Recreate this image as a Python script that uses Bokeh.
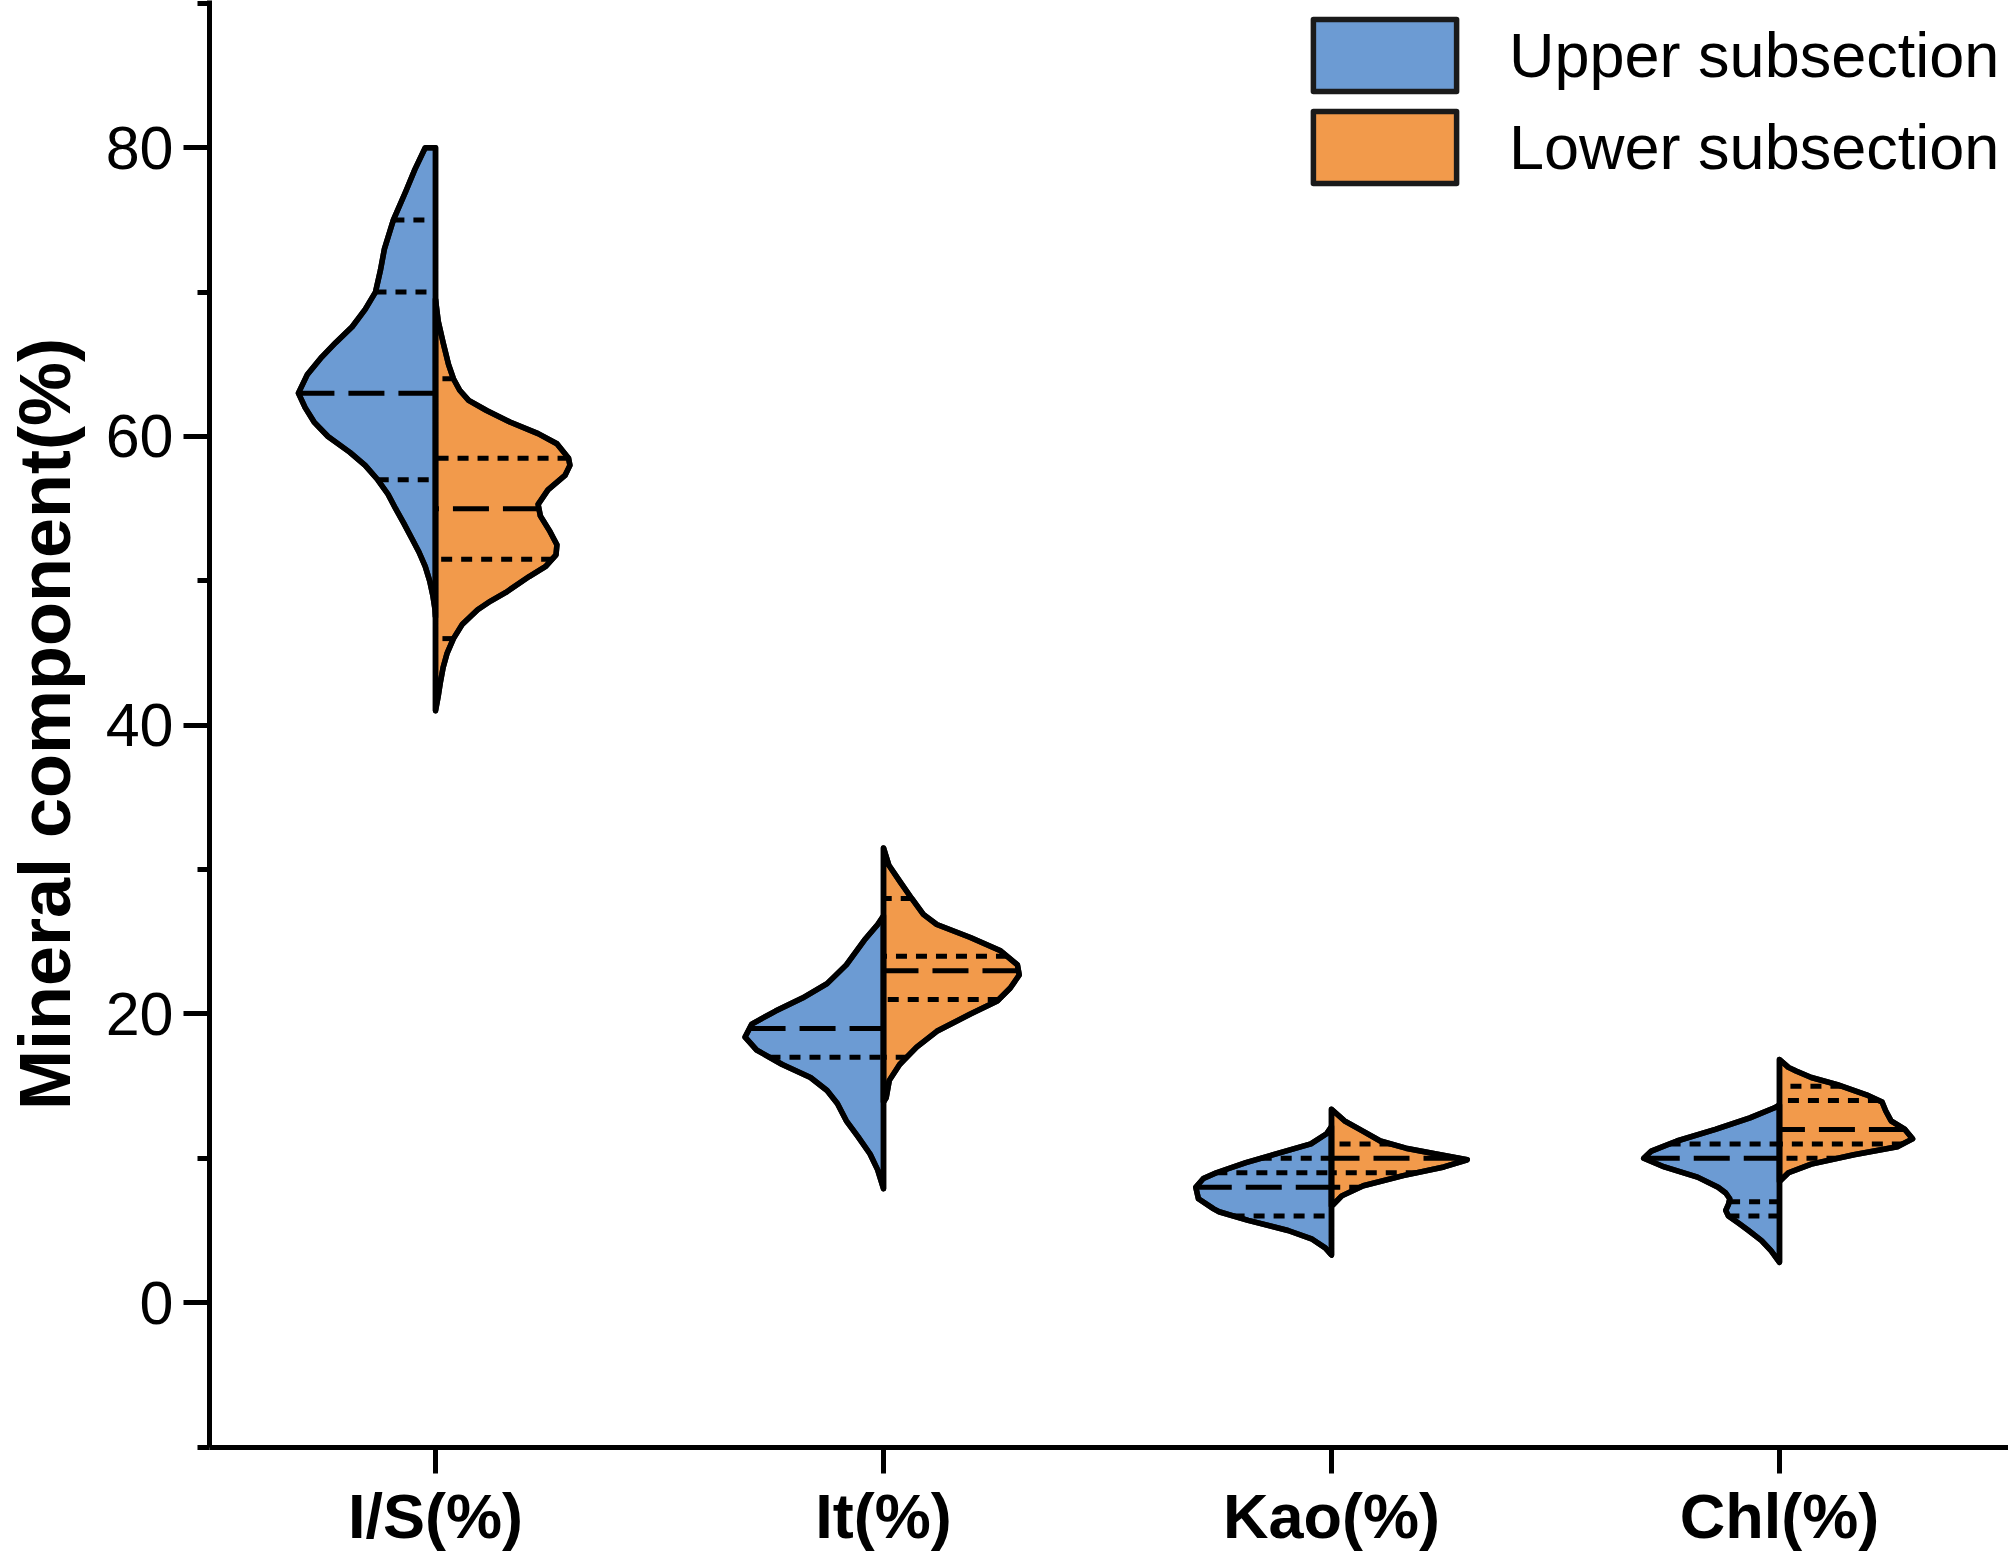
import numpy as np
from bokeh.plotting import figure
from bokeh.models import Range1d, FixedTicker, SingleIntervalTicker, Legend, LegendItem
from bokeh.embed import file_html
from bokeh.resources import INLINE

categories = ["I/S(%)", "It(%)", "Kao(%)", "Chl(%)"]
series_names = ["Upper subsection", "Lower subsection"]
colors = ["#6c9bd3", "#f29a4b"]

# Kernel-density profiles: value (%) and half-width (category units), top to bottom
is_upper_y = [80, 78.5, 77, 75, 73, 71.5, 70, 68.8, 67.6, 66.5, 65.5, 64.3, 63, 62, 61, 60, 58.9, 58, 57, 56, 55, 54, 53, 52, 51, 50, 49, 48, 47.5]
is_upper_w = [0.023, 0.046, 0.066, 0.094, 0.114, 0.123, 0.134, 0.157, 0.186, 0.223, 0.254, 0.286, 0.306, 0.291, 0.271, 0.240, 0.191, 0.157, 0.129, 0.106, 0.089, 0.071, 0.054, 0.037, 0.023, 0.013, 0.006, 0.001, 0.0]
is_lower_y = [69.5, 68, 66.5, 65, 64, 63.2, 62.5, 61.8, 61, 60.2, 59.5, 58.5, 58, 57.3, 56.3, 55.3, 54.5, 53.5, 52.5, 51.8, 51, 50.3, 49.2, 48.6, 48, 47, 46, 45, 44, 43, 42, 41]
is_lower_w = [0, 0.006, 0.017, 0.029, 0.040, 0.054, 0.074, 0.114, 0.166, 0.229, 0.271, 0.297, 0.300, 0.289, 0.251, 0.229, 0.234, 0.254, 0.271, 0.269, 0.246, 0.209, 0.157, 0.123, 0.094, 0.060, 0.040, 0.026, 0.017, 0.011, 0.006, 0]

it_upper_y = [26.8, 26.2, 25.1, 23.4, 22.1, 21.1, 20.2, 19.3, 18.4, 17.5, 16.5, 15.6, 14.7, 13.8, 12.6, 11.5, 10.3, 9.2, 7.9]
it_upper_w = [0, 0.013, 0.043, 0.083, 0.126, 0.181, 0.241, 0.294, 0.309, 0.283, 0.226, 0.163, 0.126, 0.103, 0.083, 0.057, 0.030, 0.013, 0]
it_lower_y = [31.5, 30.3, 29.2, 28.0, 26.9, 26.2, 25.3, 24.4, 23.4, 22.7, 21.8, 20.9, 20.0, 18.8, 17.7, 16.5, 15.4, 14.2, 13.9]
it_lower_w = [0, 0.012, 0.036, 0.063, 0.089, 0.119, 0.194, 0.260, 0.299, 0.303, 0.283, 0.254, 0.194, 0.119, 0.074, 0.036, 0.013, 0.006, 0]

kao_upper_y = [12.2, 11.7, 11.0, 10.4, 9.7, 9.0, 8.6, 8.0, 7.2, 6.5, 6.3, 5.7, 5.0, 4.4, 3.8, 3.3]
kao_upper_w = [0, 0.011, 0.046, 0.114, 0.191, 0.257, 0.286, 0.303, 0.297, 0.263, 0.251, 0.186, 0.097, 0.043, 0.014, 0]
kao_lower_y = [13.4, 12.6, 11.9, 11.2, 10.7, 10.3, 9.9, 9.4, 8.8, 8.1, 7.4, 6.8, 6.7]
kao_lower_w = [0, 0.029, 0.069, 0.109, 0.166, 0.234, 0.303, 0.251, 0.160, 0.071, 0.023, 0.004, 0]

chl_upper_y = [13.7, 13.5, 12.8, 12.0, 11.2, 10.5, 10.0, 9.4, 8.7, 8.0, 7.6, 7.2, 6.8, 6.4, 6.0, 5.5, 5.0, 4.3, 3.6, 2.8]
chl_upper_w = [0, 0.011, 0.066, 0.143, 0.229, 0.286, 0.303, 0.257, 0.183, 0.137, 0.120, 0.111, 0.114, 0.120, 0.114, 0.091, 0.069, 0.040, 0.019, 0]
chl_lower_y = [16.85, 16.3, 16.05, 15.6, 15.1, 14.4, 13.9, 13.3, 12.6, 12.0, 11.35, 10.8, 10.25, 9.6, 9.0, 8.4]
chl_lower_w = [0, 0.020, 0.037, 0.071, 0.129, 0.194, 0.229, 0.237, 0.249, 0.280, 0.297, 0.263, 0.166, 0.071, 0.020, 0]

# Median (dashed) and quartile/other (dotted) lines
upper_median = [63, 19, 8, 10]
upper_dotted = [[75, 70, 57], [17], [10, 9, 6], [11, 7, 6]]
lower_median = [55, 23, 10, 12]
lower_dotted = [[64, 58.5, 51.5, 46], [28, 24, 21, 17], [11, 9, 8], [15, 14, 11, 10]]

y_axis_label = "Mineral component(%)"

upper_profiles = [(is_upper_y, is_upper_w), (it_upper_y, it_upper_w), (kao_upper_y, kao_upper_w), (chl_upper_y, chl_upper_w)]
lower_profiles = [(is_lower_y, is_lower_w), (it_lower_y, it_lower_w), (kao_lower_y, kao_lower_w), (chl_lower_y, chl_lower_w)]

FONT = "Liberation Sans"
LW = 5.5

p = figure(width=2008, height=1554,
           x_range=Range1d(-0.5045, 3.5112), y_range=Range1d(-10.03, 90.2),
           output_backend="svg", toolbar_location=None,
           min_border_left=209, min_border_right=0, min_border_top=0, min_border_bottom=107)
p.outline_line_color = None
p.xgrid.visible = False
p.ygrid.visible = False
p.background_fill_color = "white"
p.border_fill_color = "white"

def half_patch(c, ys, ws, side):
    xs = [c] + [c + side * w for w in ws] + [c]
    yy = [ys[0]] + list(ys) + [ys[-1]]
    return xs, yy

def patch_lists(profiles, side):
    pxs, pys = [], []
    for i, (ys, ws) in enumerate(profiles):
        xs, yy = half_patch(i, ys, ws, side)
        pxs.append(xs)
        pys.append(yy)
    return pxs, pys

halves = [(upper_profiles, -1), (lower_profiles, 1)]

renderers = []
for s, (profiles, side) in enumerate(halves):
    pxs, pys = patch_lists(profiles, side)
    r = p.patches(pxs, pys, fill_color=colors[s], line_color="#1a1a1a", line_width=LW, line_join="round")
    renderers.append(r)

def seg_lists(profiles, levels_per_cat, side):
    x0, y0, x1, y1 = [], [], [], []
    for i, (ys, ws) in enumerate(profiles):
        levels = levels_per_cat[i] if isinstance(levels_per_cat[i], list) else [levels_per_cat[i]]
        for v in levels:
            w = float(np.interp(v, ys[::-1], ws[::-1]))
            x0.append(i + side * w); y0.append(v)
            x1.append(i); y1.append(v)
    return x0, y0, x1, y1

for profiles, med, dots, side in [(upper_profiles, upper_median, upper_dotted, -1),
                                  (lower_profiles, lower_median, lower_dotted, 1)]:
    x0, y0, x1, y1 = seg_lists(profiles, med, side)
    p.segment(x0, y0, x1, y1, line_color="black", line_width=5, line_dash="36 14")
    x0, y0, x1, y1 = seg_lists(profiles, dots, side)
    p.segment(x0, y0, x1, y1, line_color="black", line_width=5, line_dash="11 9")

# outlines on top of the dashed lines
for s, (profiles, side) in enumerate(halves):
    pxs, pys = patch_lists(profiles, side)
    p.patches(pxs, pys, fill_color=None, line_color="black", line_width=LW, line_join="round")

# axes
xa = p.xaxis[0]
xa.ticker = FixedTicker(ticks=list(range(len(categories))), minor_ticks=[])
xa.major_label_overrides = {i: c for i, c in enumerate(categories)}
xa.major_label_text_font = FONT
xa.major_label_text_font_style = "bold"
xa.major_label_text_font_size = "63px"
xa.major_label_text_color = "black"
xa.major_label_standoff = 7
ya = p.yaxis[0]
ya.ticker = SingleIntervalTicker(interval=20, num_minor_ticks=2)
ya.major_label_text_font = FONT
ya.major_label_text_font_size = "61px"
ya.major_label_text_color = "black"
ya.major_label_standoff = 10
ya.axis_label = y_axis_label
ya.axis_label_text_font = FONT
ya.axis_label_text_font_style = "bold"
ya.axis_label_text_font_size = "72px"
ya.axis_label_text_color = "black"
ya.axis_label_standoff = 18
for ax in (xa, ya):
    ax.axis_line_width = 5
    ax.axis_line_color = "black"
    ax.major_tick_line_width = 5
    ax.minor_tick_line_width = 5
    ax.major_tick_line_color = "black"
    ax.minor_tick_line_color = "black"
    ax.major_tick_out = 26
    ax.major_tick_in = 0
    ax.minor_tick_out = 12
    ax.minor_tick_in = 0

legend = Legend(items=[LegendItem(label=series_names[k], renderers=[renderers[k]]) for k in range(2)],
                location=(1086, 1255), orientation="vertical")
legend.padding = 0
legend.margin = 0
legend.spacing = 2
legend.glyph_width = 179
legend.glyph_height = 90
legend.label_standoff = 35
legend.label_text_font = FONT
legend.label_text_font_size = "63px"
legend.label_text_color = "black"
legend.border_line_color = None
legend.background_fill_alpha = 0
p.add_layout(legend)

open("out.html", "w").write(file_html(p, INLINE))
